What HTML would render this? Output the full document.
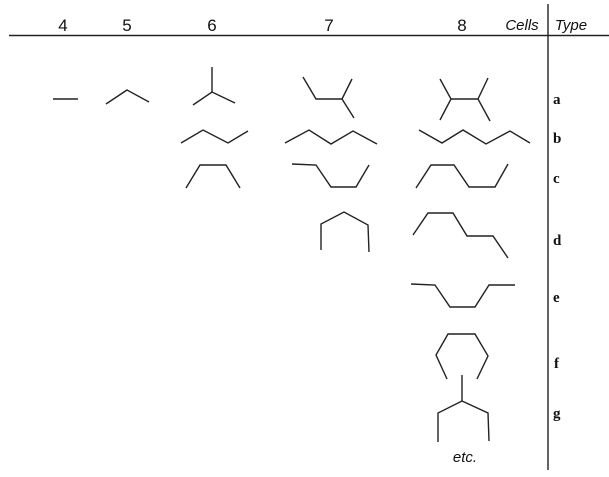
<!DOCTYPE html>
<html><head><style>
html,body{margin:0;padding:0;background:#fff;width:609px;height:477px;overflow:hidden}
svg{display:block}
</style></head><body>
<svg width="609" height="477" viewBox="0 0 609 477" xmlns="http://www.w3.org/2000/svg">
<g stroke="#222" stroke-width="1.4" fill="none" stroke-linejoin="miter">
<line x1="9" y1="35.5" x2="609" y2="35.5"/>
<line x1="548" y1="4" x2="548" y2="470"/>
<!-- row a -->
<line x1="53" y1="99" x2="78" y2="99"/>
<polyline points="106,104 127,90 149,102"/>
<line x1="212" y1="67" x2="212" y2="92"/>
<polyline points="193,105 212,92 235,103"/>
<polyline points="303,77 316,99 342,99 352,79"/>
<line x1="342" y1="99" x2="354" y2="118"/>
<polyline points="440,79 451,99 440,120"/>
<line x1="451" y1="99" x2="478" y2="99"/>
<polyline points="488,78 478,99 490,121"/>
<!-- row b -->
<polyline points="181,143 203,130 228,143 248,131"/>
<polyline points="285,143 309,130 331,144 353,131 377,144"/>
<polyline points="419,130 442,143 463,130 486,144 510,131 530,143"/>
<!-- row c -->
<polyline points="186,188 200,165 226,165 240,188"/>
<polyline points="292,164 316,165 331,187 356,187 369,165"/>
<polyline points="416,188 431,165 454,165 469,187 495,187 508,164"/>
<!-- row d -->
<polyline points="321,250 321,224 344,212 368,225 369,252"/>
<polyline points="413,235 428,213 453,213 467,236 493,236 508,258"/>
<!-- row e -->
<polyline points="411,284 435,285 450,307 475,307 489,285 515,285"/>
<!-- row f -->
<polyline points="447,379 436,355 448,334 475,334 488,356 477,379"/>
<!-- row g -->
<line x1="462" y1="375" x2="462" y2="401"/>
<polyline points="438,442 438,413 462,401 488,413 489,441"/>
</g>
<g font-family="Liberation Sans, sans-serif" font-size="17" fill="#111" text-anchor="middle">
<text x="63" y="31">4</text>
<text x="127" y="31">5</text>
<text x="212" y="31">6</text>
<text x="329" y="31">7</text>
<text x="462" y="31">8</text>
<text x="522" y="30" font-style="italic" font-size="15">Cells</text>
<text x="571" y="30" font-style="italic" font-size="15">Type</text>
</g>
<g font-family="Liberation Serif, serif" font-size="15" font-weight="bold" fill="#111">
<text x="553" y="104">a</text>
<text x="553" y="143">b</text>
<text x="553" y="183">c</text>
<text x="553" y="245">d</text>
<text x="553" y="302">e</text>
<text x="554" y="368">f</text>
<text x="553" y="418">g</text>
</g>
<text x="465" y="462" font-family="Liberation Sans, sans-serif" font-size="15" font-style="italic" fill="#111" text-anchor="middle">etc.</text>
</svg>
</body></html>
